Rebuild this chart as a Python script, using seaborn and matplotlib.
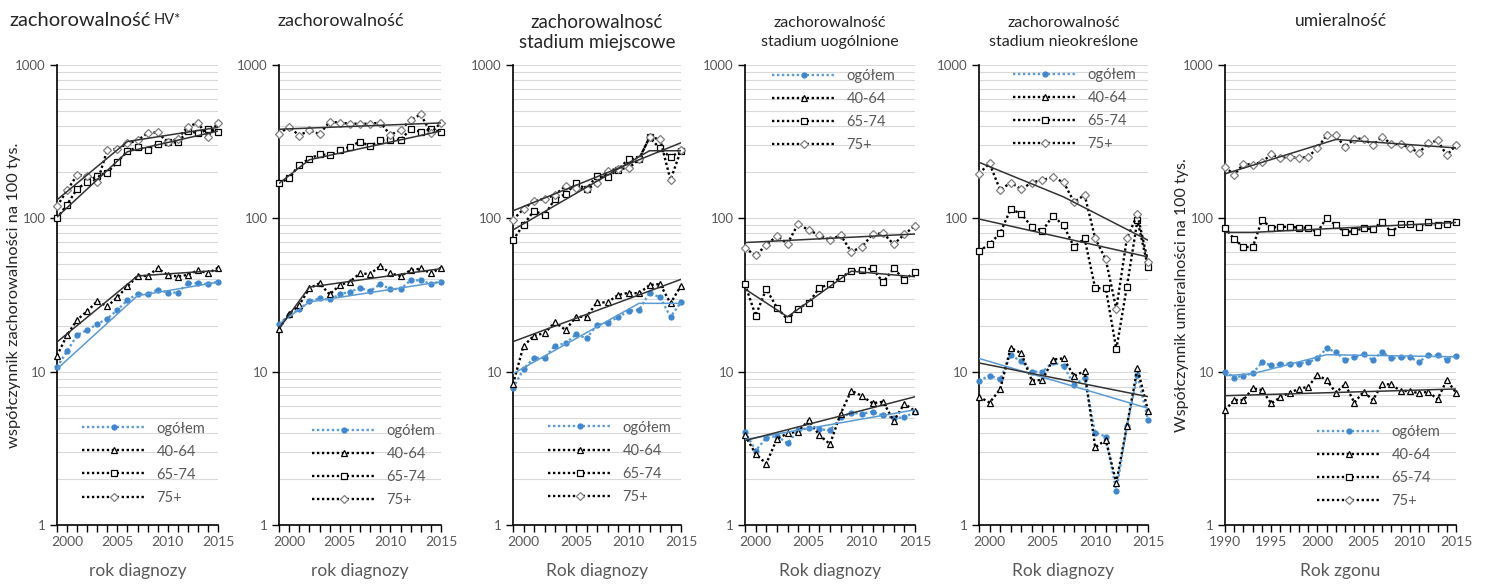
import numpy as np
import pandas as pd
import matplotlib
matplotlib.use("Agg")
import matplotlib.pyplot as plt
from matplotlib.lines import Line2D
from matplotlib.ticker import LogLocator, NullFormatter
import seaborn as sns

sns.set_theme(style="white")
plt.rcParams["font.family"] = ["Lato", "DejaVu Sans"]

# ---- data ----
groups = ["ogółem", "40-64", "65-74", "75+"]
years_inc = list(range(1999, 2016))
years_mort = list(range(1990, 2016))

# zachorowalność HV*
hv_ogolem = [10.7, 13.6, 17.3, 18.7, 20.4, 22.2, 25.2, 29.3, 32.2, 31.9, 34.3, 32.8, 32.8, 37.7, 37.7, 37.3, 38.7]
hv_40_64 = [12.7, 17.3, 21.8, 24.8, 28.8, 26.7, 30.6, 36.0, 42.1, 42.1, 47.1, 42.8, 41.7, 42.8, 45.8, 43.8, 47.6]
hv_65_74 = [100, 123, 156, 172, 190, 198, 234, 273, 292, 280, 305, 313, 313, 371, 360, 381, 366]
hv_75 = [120, 152, 192, 190, 172, 280, 283, 308, 322, 360, 364, 313, 331, 396, 419, 341, 421]
hv_tr_ogolem = ([1999, 2007, 2015], [10.4, 31.3, 38.3])
hv_tr_40_64 = ([1999, 2007, 2015], [15.6, 42.1, 45.7])
hv_tr_65_74 = ([1999, 2006, 2015], [102, 272, 371])
hv_tr_75 = ([1999, 2006, 2015], [132, 317, 392])

# zachorowalność
all_ogolem = [20.4, 23.4, 25.5, 28.8, 30.1, 29.6, 31.9, 33.3, 35.0, 33.7, 37.1, 34.6, 34.6, 39.4, 39.4, 37.3, 38.7]
all_40_64 = [19.1, 23.8, 27.2, 35.0, 37.7, 31.9, 36.6, 38.7, 43.8, 43.3, 49.0, 43.8, 42.1, 45.8, 47.1, 43.8, 47.6]
all_65_74 = [170, 182, 224, 244, 262, 258, 277, 293, 317, 296, 322, 326, 326, 381, 366, 381, 366]
all_75 = [356, 396, 346, 377, 354, 426, 421, 414, 414, 414, 421, 350, 377, 438, 476, 360, 421]
all_tr_ogolem = ([1999, 2002, 2015], [20.4, 28.5, 38.6])
all_tr_40_64 = ([1999, 2002, 2015], [19.1, 35.6, 47.0])
all_tr_65_74 = ([1999, 2002, 2015], [169, 241, 371])
all_tr_75 = ([1999, 2015], [381, 419])

# stadium miejscowe
loc_ogolem = [7.8, 10.4, 12.3, 12.3, 14.8, 15.3, 17.5, 16.5, 20.1, 20.9, 22.6, 24.9, 25.3, 32.7, 30.5, 22.8, 28.3]
loc_40_64 = [8.3, 14.7, 17.2, 17.8, 21.0, 18.7, 22.8, 22.8, 28.3, 28.3, 31.6, 32.7, 32.4, 36.7, 37.3, 27.9, 36.4]
loc_65_74 = [72, 91, 112, 105, 134, 144, 169, 155, 190, 187, 207, 244, 244, 337, 286, 250, 276]
loc_75 = [98, 115, 130, 134, 142, 163, 157, 155, 169, 205, 210, 212, 243, 337, 329, 178, 279]
loc_tr_ogolem = ([1999, 2011, 2015], [9.7, 27.9, 27.9])
loc_tr_40_64 = ([1999, 2015], [15.7, 40.0])
loc_tr_65_74 = ([1999, 2012, 2015], [84, 276, 276])
loc_tr_75 = ([1999, 2015], [112, 311])

# stadium uogólnione
gen_ogolem = [4.07, 3.05, 3.70, 3.81, 3.41, 4.14, 4.31, 4.21, 4.14, 5.03, 5.38, 5.32, 5.48, 5.18, 4.98, 5.03, 5.48]
gen_40_64 = [3.85, 2.91, 2.51, 3.64, 3.96, 4.07, 4.82, 3.85, 3.37, 5.32, 7.52, 6.95, 6.22, 6.37, 4.76, 6.19, 5.53]
gen_65_74 = [37.3, 23.2, 34.6, 26.2, 21.9, 25.8, 28.2, 35.2, 37.3, 41.0, 45.3, 45.8, 47.1, 38.3, 47.1, 39.8, 44.5]
gen_75 = [64.0, 57.3, 66.9, 76.9, 68.4, 92.0, 83.7, 77.8, 72.3, 77.8, 60.5, 65.1, 78.7, 80.0, 67.7, 78.7, 89.4]
gen_tr_ogolem = ([1999, 2015], [3.61, 5.64])
gen_tr_40_64 = ([1999, 2015], [3.55, 6.86])
gen_tr_65_74 = ([1999, 2003, 2009, 2015], [34.6, 22.8, 45.2, 41.6])
gen_tr_75 = ([1999, 2015], [69.5, 79.0])

# stadium nieokreślone
uns_ogolem = [8.74, 9.42, 8.91, 12.8, 11.7, 10.0, 10.0, 11.5, 10.9, 8.2, 9.05, 4.0, 3.77, 1.67, 4.4, 9.5, 4.84]
uns_40_64 = [6.87, 6.28, 7.67, 14.3, 13.2, 8.74, 8.83, 12.0, 12.2, 9.37, 10.1, 3.21, 3.58, 1.89, 4.42, 10.5, 5.57]
uns_65_74 = [61, 68, 80, 115, 107, 88, 83, 104, 90, 65, 74, 35, 35, 14.0, 35.8, 97, 48]
uns_75 = [196, 228, 153, 171, 155, 171, 178, 185, 172, 128, 142, 74, 54, 25.6, 74, 106, 52]
uns_tr_ogolem = ([1999, 2015], [12.2, 5.77])
uns_tr_40_64 = ([1999, 2015], [11.4, 6.87])
uns_tr_65_74 = ([1999, 2015], [99, 56])
uns_tr_75 = ([1999, 2007, 2015], [232, 138, 72])

# umieralność
mort_ogolem = [10.0, 9.14, 9.42, 9.75, 11.5, 11.0, 11.2, 11.3, 11.3, 11.5, 12.2, 14.2, 13.4,
               11.9, 12.4, 13.0, 11.9, 13.5, 12.2, 12.4, 12.4, 11.6, 12.8, 12.8, 12.0, 12.7]
mort_40_64 = [5.62, 6.53, 6.53, 7.78, 7.59, 6.21, 6.80, 7.30, 7.71, 7.98, 9.51, 8.82, 7.30,
              8.27, 6.28, 7.41, 6.53, 8.27, 8.27, 7.48, 7.48, 7.22, 7.41, 6.60, 8.82, 7.30]
mort_65_74 = [87, 73, 65, 65, 97.5, 87, 88, 88, 87, 87, 81, 101, 90,
              81, 83, 86, 85, 95, 81, 92, 92, 88, 94, 90, 92, 95]
mort_75 = [216, 193, 226, 224, 233, 261, 247, 251, 248, 251, 288, 347, 347,
           291, 331, 331, 300, 341, 305, 305, 288, 268, 310, 322, 258, 300]
mort_tr_ogolem = ([1990, 1993, 2001, 2015], [9.4, 9.7, 12.9, 12.5])
mort_tr_40_64 = ([1990, 2015], [6.97, 7.71])
mort_tr_65_74 = ([1990, 1993, 2015], [81, 81, 94])
mort_tr_75 = ([1990, 2002, 2015], [195, 327, 288])

# ---- styles ----
GRAY_TXT = "#595959"
DARK_TXT = "#262626"
BLUE = "#5B9BD5"
BLUE_M = "#3F88D0"
TREND = "#333333"
DOTS = (0, (1, 1.1))

styles = {
    "ogółem": dict(color=BLUE, marker="o", markersize=3.6, markerfacecolor=BLUE_M, markeredgecolor=BLUE_M),
    "40-64": dict(color="black", marker="^", markersize=4.8, markerfacecolor="white", markeredgecolor="black"),
    "65-74": dict(color="black", marker="s", markersize=4.0, markerfacecolor="white", markeredgecolor="black"),
    "75+": dict(color="black", marker="D", markersize=3.6, markerfacecolor="white", markeredgecolor="#7f7f7f"),
}
trend_colors = {"ogółem": BLUE, "40-64": TREND, "65-74": TREND, "75+": TREND}

W, H = 1489, 585
fig = plt.figure(figsize=(W / 100, H / 100), dpi=100)
Y_TOP, Y_BOT = 65, 525


def make_ax(x0, x1):
    return fig.add_axes([x0 / W, (H - Y_BOT) / H, (x1 - x0) / W, (Y_BOT - Y_TOP) / H])


def draw_panel(ax, years, series, trends, xlabel, leg_anchor):
    df = pd.DataFrame({"rok": years, **dict(zip(groups, series))})
    long = df.melt("rok", var_name="grupa", value_name="wsp")
    ax.set_yscale("log")
    for g in groups:
        sub = long[long["grupa"] == g]
        sns.lineplot(data=sub, x="rok", y="wsp", ax=ax, estimator=None, legend=False,
                     linestyle=DOTS, lw=1.7, markeredgewidth=0.9, clip_on=False, zorder=3,
                     **styles[g])
    for g, (tx, ty) in zip(groups, trends):
        sns.lineplot(x=tx, y=ty, ax=ax, estimator=None, legend=False,
                     color=trend_colors[g], lw=1.1, zorder=4)

    ax.set_ylim(1, 1000)
    ax.set_xlim(years[0], years[-1])
    ax.set_yticks([1, 10, 100, 1000])
    ax.set_yticklabels(["1", "10", "100", "1000"])
    ax.yaxis.set_minor_locator(LogLocator(base=10, subs=np.arange(2, 10)))
    ax.yaxis.set_minor_formatter(NullFormatter())
    ax.set_xticks(years)
    ax.set_xticklabels([str(y) if y % 5 == 0 else "" for y in years])
    ax.grid(axis="y", which="both", color="#D9D9D9", lw=0.8)
    ax.grid(axis="x", visible=False)
    ax.set_axisbelow(True)
    ax.tick_params(axis="both", which="major", direction="out", length=5, width=1,
                   color="black", labelsize=10, labelcolor=GRAY_TXT, pad=3,
                   bottom=True, left=True)
    ax.tick_params(axis="y", which="major", labelsize=9.5)
    ax.tick_params(which="minor", length=0)
    for s in ["top", "right"]:
        ax.spines[s].set_visible(False)
    for s in ["left", "bottom"]:
        ax.spines[s].set_color("black")
        ax.spines[s].set_linewidth(1.2)
    ax.set_xlabel(xlabel, fontsize=12.5, color=GRAY_TXT, labelpad=11)
    ax.set_ylabel("")

    handles = [Line2D([], [], linestyle=DOTS, lw=1.7, markeredgewidth=0.9, **styles[g]) for g in groups]
    ax.legend(handles, groups, loc="upper left", bbox_to_anchor=leg_anchor, frameon=False,
              fontsize=10.5, handlelength=4.4, handletextpad=0.7, labelspacing=0.62,
              borderpad=0, borderaxespad=0, labelcolor=GRAY_TXT)


panels = [
    ((57, 218), years_inc, [hv_ogolem, hv_40_64, hv_65_74, hv_75],
     [hv_tr_ogolem, hv_tr_40_64, hv_tr_65_74, hv_tr_75], "rok diagnozy", (0.155, 0.225)),
    ((279, 441), years_inc, [all_ogolem, all_40_64, all_65_74, all_75],
     [all_tr_ogolem, all_tr_40_64, all_tr_65_74, all_tr_75], "rok diagnozy", (0.204, 0.22)),
    ((513, 681), years_inc, [loc_ogolem, loc_40_64, loc_65_74, loc_75],
     [loc_tr_ogolem, loc_tr_40_64, loc_tr_65_74, loc_tr_75], "Rok diagnozy", (0.208, 0.227)),
    ((745, 915), years_inc, [gen_ogolem, gen_40_64, gen_65_74, gen_75],
     [gen_tr_ogolem, gen_tr_40_64, gen_tr_65_74, gen_tr_75], "Rok diagnozy", (0.159, 0.992)),
    ((979, 1148), years_inc, [uns_ogolem, uns_40_64, uns_65_74, uns_75],
     [uns_tr_ogolem, uns_tr_40_64, uns_tr_65_74, uns_tr_75], "Rok diagnozy", (0.201, 0.994)),
    ((1225, 1456), years_mort, [mort_ogolem, mort_40_64, mort_65_74, mort_75],
     [mort_tr_ogolem, mort_tr_40_64, mort_tr_65_74, mort_tr_75], "Rok zgonu", (0.398, 0.218)),
]

axes = []
for (x0, x1), yrs, ser, trs, xl, anchor in panels:
    ax = make_ax(x0, x1)
    draw_panel(ax, yrs, ser, trs, xl, anchor)
    axes.append(ax)

# titles
t1 = axes[0].text(0.58, 1.096, "zachorowalność", transform=axes[0].transAxes,
                  ha="right", va="center", fontsize=14.5, color=DARK_TXT)
axes[0].annotate("HV*", xy=(1, 0), xycoords=t1, xytext=(2, 2), textcoords="offset points",
                 ha="left", va="bottom", fontsize=10.5, color=DARK_TXT)
axes[1].text(0.38, 1.096, "zachorowalność", transform=axes[1].transAxes,
             ha="center", va="center", fontsize=13, color=DARK_TXT)
axes[2].text(0.5, 1.071, "zachorowalnosć\nstadium miejscowe", transform=axes[2].transAxes,
             ha="center", va="center", fontsize=13.5, color=DARK_TXT, linespacing=1.2)
axes[3].text(0.5, 1.071, "zachorowalność\nstadium uogólnione", transform=axes[3].transAxes,
             ha="center", va="center", fontsize=11.5, color=DARK_TXT, linespacing=1.45)
axes[4].text(0.5, 1.071, "zachorowalność\nstadium nieokreślone", transform=axes[4].transAxes,
             ha="center", va="center", fontsize=11.5, color=DARK_TXT, linespacing=1.45)
axes[5].text(0.5, 1.096, "umieralność", transform=axes[5].transAxes,
             ha="center", va="center", fontsize=12.5, color=DARK_TXT)

axes[0].set_ylabel("współczynnik zachorowalności na 100 tys.", fontsize=11.8, color=DARK_TXT)
axes[0].yaxis.set_label_coords(-0.225, 0.5)
axes[5].set_ylabel("Współczynnik umieralności na 100 tys.", fontsize=11.5, color=DARK_TXT)
axes[5].yaxis.set_label_coords(-0.155, 0.5)

fig.savefig("out.png", dpi=100)
